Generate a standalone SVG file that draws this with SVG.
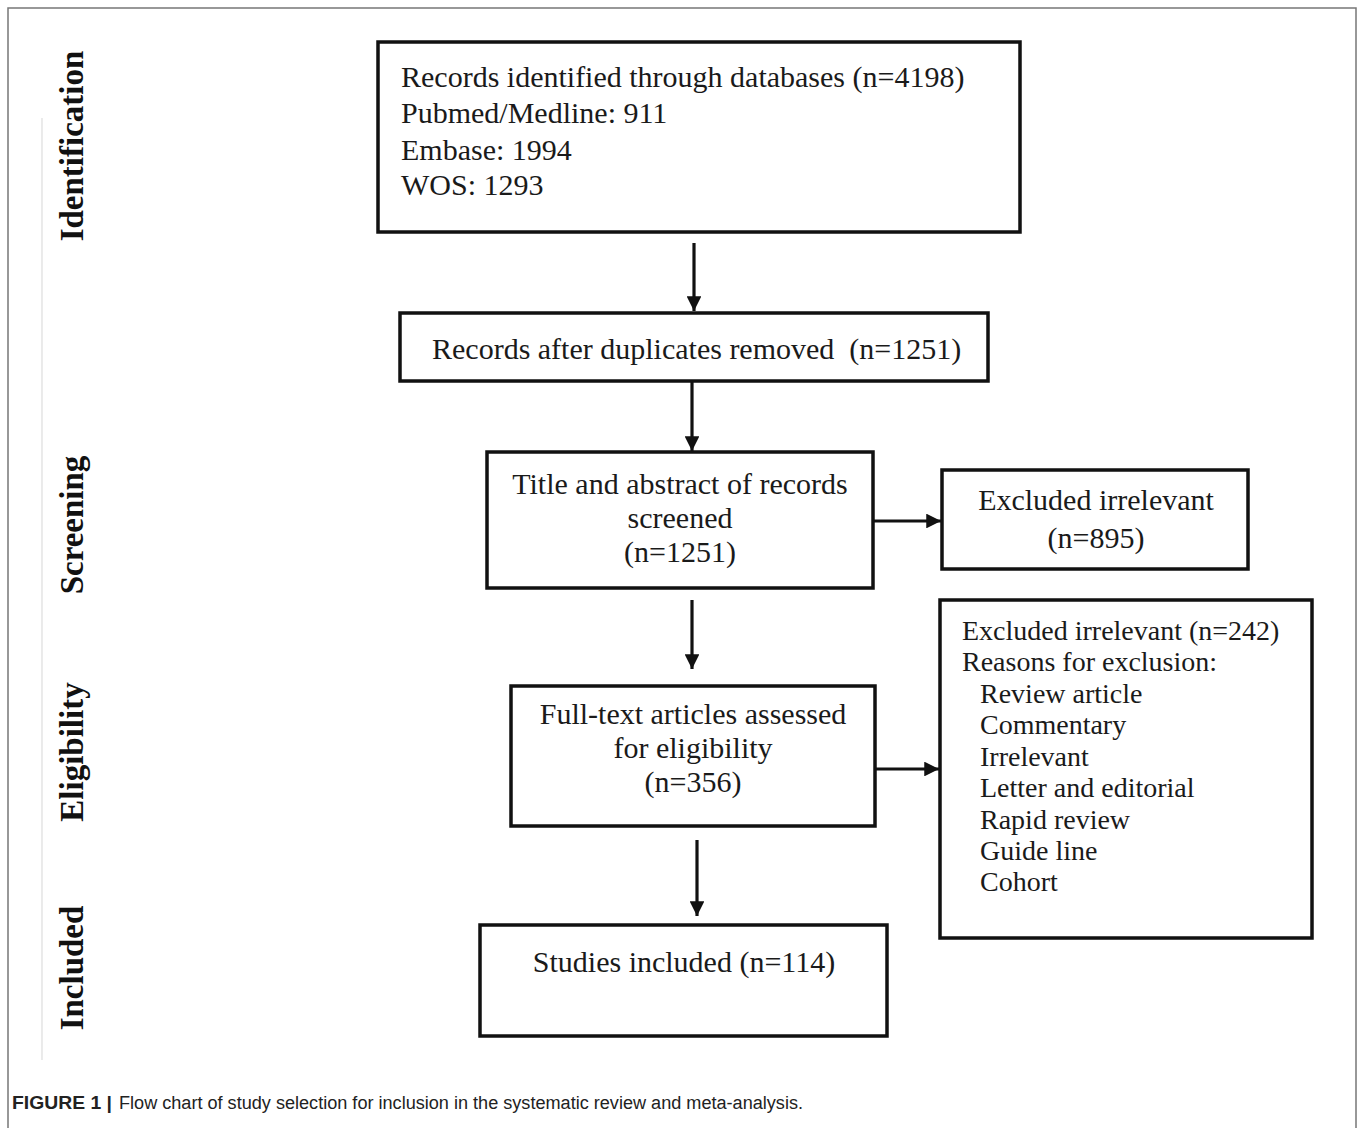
<svg xmlns="http://www.w3.org/2000/svg" width="1358" height="1128" viewBox="0 0 1358 1128">
<defs>
<style>
.box{fill:#fff;stroke:#111;stroke-width:3.5}
.t{font-family:"Liberation Serif","Times New Roman",serif;font-size:30px;fill:#1a1a1a}
.s{font-family:"Liberation Serif","Times New Roman",serif;font-size:28px;fill:#1a1a1a}
.c{text-anchor:middle}
.lab{font-family:"Liberation Serif","Times New Roman",serif;font-size:33px;font-weight:bold;fill:#111;text-anchor:middle}
.cap{font-family:"Liberation Sans",Arial,sans-serif;font-size:18px;fill:#222}
.con{stroke:#111;stroke-width:3.2;fill:none;marker-end:url(#ah)}
</style>
<marker id="ah" viewBox="0 0 10 10" refX="10" refY="5" markerWidth="4.6" markerHeight="4.6" markerUnits="strokeWidth" orient="auto">
<path d="M0,0 L10,5 L0,10 z" fill="#111"/>
</marker>
</defs>
<rect width="1358" height="1128" fill="#fff"/>
<path d="M8,1128 V8 H1356 V1128" fill="none" stroke="#777" stroke-width="1.5"/>
<line x1="42" y1="118" x2="42" y2="1060" stroke="#ddd" stroke-width="1.2"/>

<g id="stage-labels">
<text class="lab" transform="translate(83,146) rotate(-90)">Identification</text>
<text class="lab" transform="translate(83,525) rotate(-90)">Screening</text>
<text class="lab" transform="translate(83,752) rotate(-90)">Eligibility</text>
<text class="lab" transform="translate(83,968) rotate(-90)">Included</text>
</g>

<g id="connectors">
<line class="con" x1="694" y1="243" x2="694" y2="311"/>
<line class="con" x1="692" y1="381" x2="692" y2="451"/>
<line class="con" x1="873" y1="521" x2="941" y2="521"/>
<line class="con" x1="692" y1="600" x2="692" y2="669"/>
<line class="con" x1="875" y1="769" x2="939" y2="769"/>
<line class="con" x1="697" y1="840" x2="697" y2="916"/>
</g>

<g id="n-identified">
<rect class="box" x="378" y="42" width="642" height="190"/>
<text class="t" x="401" y="87">Records identified through databases (n=4198)</text>
<text class="t" x="401" y="123">Pubmed/Medline: 911</text>
<text class="t" x="401" y="160">Embase: 1994</text>
<text class="t" x="401" y="195">WOS: 1293</text>
</g>

<g id="n-dedup">
<rect class="box" x="400" y="313" width="588" height="68"/>
<text class="t" x="432" y="359" xml:space="preserve">Records after duplicates removed  (n=1251)</text>
</g>

<g id="n-screened">
<rect class="box" x="487" y="452" width="386" height="136"/>
<text class="t c" x="680" y="494">Title and abstract of records</text>
<text class="t c" x="680" y="528">screened</text>
<text class="t c" x="680" y="562">(n=1251)</text>
</g>

<g id="n-excluded1">
<rect class="box" x="942" y="470" width="306" height="99"/>
<text class="t c" x="1096" y="510">Excluded irrelevant</text>
<text class="t c" x="1096" y="548">(n=895)</text>
</g>

<g id="n-fulltext">
<rect class="box" x="511" y="686" width="364" height="140"/>
<text class="t c" x="693" y="724">Full-text articles assessed</text>
<text class="t c" x="693" y="758">for eligibility</text>
<text class="t c" x="693" y="792">(n=356)</text>
</g>

<g id="n-excluded2">
<rect class="box" x="940" y="600" width="372" height="338"/>
<text class="s" x="962" y="640">Excluded irrelevant (n=242)</text>
<text class="s" x="962" y="671">Reasons for exclusion:</text>
<text class="s" x="980" y="703">Review article</text>
<text class="s" x="980" y="734">Commentary</text>
<text class="s" x="980" y="766">Irrelevant</text>
<text class="s" x="980" y="797">Letter and editorial</text>
<text class="s" x="980" y="829">Rapid review</text>
<text class="s" x="980" y="860">Guide line</text>
<text class="s" x="980" y="891">Cohort</text>
</g>

<g id="n-included">
<rect class="box" x="480" y="925" width="407" height="111"/>
<text class="t c" x="684" y="972">Studies included (n=114)</text>
</g>

<g id="caption">
<text class="cap" x="12" y="1109" font-weight="bold" textLength="100" lengthAdjust="spacingAndGlyphs">FIGURE 1 |</text>
<text class="cap" x="119" y="1109" textLength="684" lengthAdjust="spacingAndGlyphs">Flow chart of study selection for inclusion in the systematic review and meta-analysis.</text>
</g>
</svg>
